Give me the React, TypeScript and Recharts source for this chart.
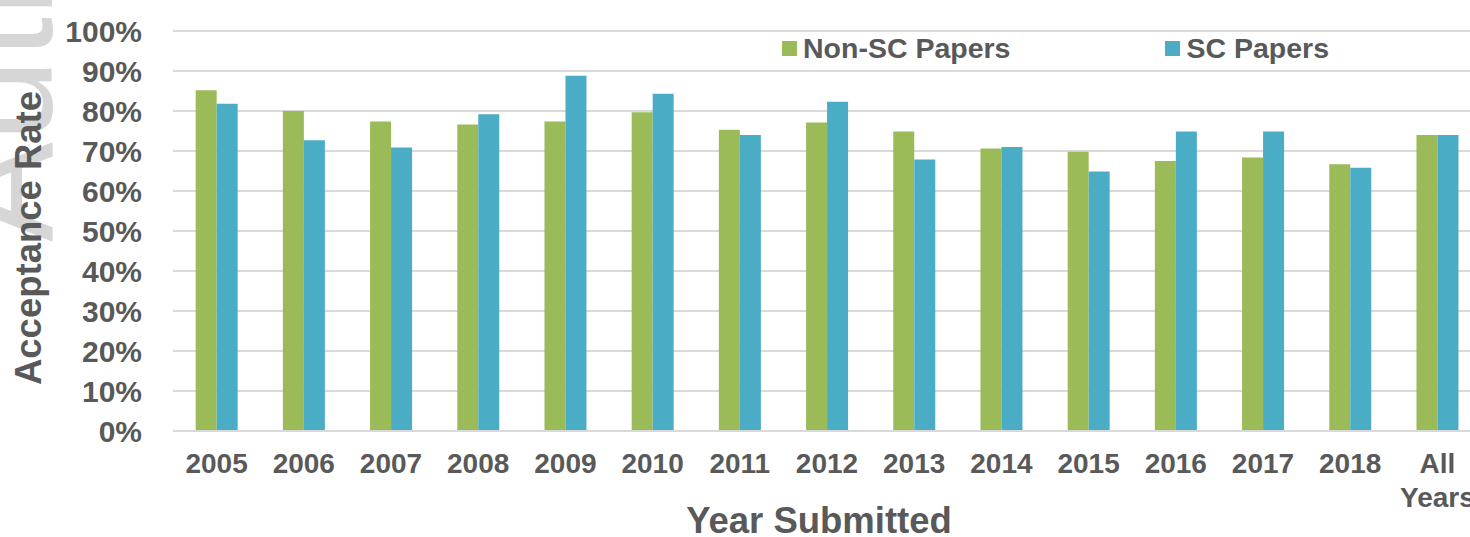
import React from 'react';
import { BarChart, Bar, XAxis, YAxis, CartesianGrid, Legend, Label } from 'recharts';

const YEARS = ['2005', '2006', '2007', '2008', '2009', '2010', '2011', '2012', '2013', '2014', '2015', '2016', '2017', '2018', 'All Years'];
const NON_SC = [85.2, 80.0, 77.4, 76.6, 77.4, 79.7, 75.3, 77.1, 74.9, 70.6, 69.8, 67.5, 68.4, 66.7, 74.0];
const SC = [81.8, 72.7, 70.9, 79.2, 88.8, 84.3, 74.0, 82.3, 67.9, 71.0, 64.9, 74.9, 74.9, 65.8, 74.0];
const Y_TICKS = [0, 10, 20, 30, 40, 50, 60, 70, 80, 90, 100];

const GREEN = '#9BBB59';
const BLUE = '#4BACC6';
const TEXT = '#595959';
const GRID = '#d9d9d9';
const FONT = '"Liberation Sans", Arial, sans-serif';

const data = YEARS.map((year, i) => ({ year, nonSc: NON_SC[i], sc: SC[i] }));

// category labels, "All Years" wraps to two lines
const YearTick = ({ x, y, payload }: any) => {
  const words = String(payload.value).split(' ');
  return (
    <g>
      {words.map((w, i) => (
        <text key={i} x={x} y={y + 32 + i * 34} textAnchor="middle" dominantBaseline="central"
          fill={TEXT} fontSize={28} fontWeight="bold" fontFamily={FONT}>
          {w}
        </text>
      ))}
    </g>
  );
};

const LegendContent = ({ payload }: any) => (
  <div style={{ display: 'flex', alignItems: 'center', height: 36, gap: 155 }}>
    {(payload || []).map((item: any, i: number) => (
      <div key={i} style={{ display: 'flex', alignItems: 'center' }}>
        <span style={{ width: 15, height: 15, background: item.color, marginRight: 6, display: 'inline-block' }} />
        <span style={{ color: TEXT, fontSize: 28.5, fontWeight: 'bold', fontFamily: FONT, lineHeight: '36px' }}>{item.value}</span>
      </div>
    ))}
  </div>
);

export default function App() {
  return (
    <div style={{ position: 'absolute', left: 0, top: 0, width: 1470, height: 537, overflow: 'hidden', background: '#fff' }}>
      {/* faint watermark from the scanned source */}
      <svg width={1470} height={537} style={{ position: 'absolute', left: 0, top: 0 }}>
        <text transform="translate(52, 242) rotate(-90)" fontSize={150} fontFamily={FONT} fill="#d6d6d6">
          Author Manuscript
        </text>
      </svg>
      <div style={{ position: 'absolute', left: 0, top: 0 }}>
        <BarChart width={1490} height={537} data={data} margin={{ top: 31, right: 9, left: 0, bottom: 0 }}
          barCategoryGap="26%" barGap={0}>
          <CartesianGrid vertical={false} stroke={GRID} strokeWidth={2} />
          <XAxis dataKey="year" height={106} interval={0} tickLine={false} tickSize={0} tickMargin={0}
            axisLine={{ stroke: GRID, strokeWidth: 2 }} tick={<YearTick />}>
            <Label content={({ viewBox }: any) => (
              <text x={viewBox.x + viewBox.width / 2 - 8} y={533} textAnchor="middle" fill={TEXT}
                fontSize={36.5} fontWeight="bold" fontFamily={FONT}>Year Submitted</text>
            )} />
          </XAxis>
          <YAxis width={173} domain={[0, 100]} ticks={Y_TICKS} interval={0} axisLine={false} tickLine={false}
            tickSize={0} tickMargin={31} tickFormatter={(v: number) => `${v}%`}
            tick={{ fill: TEXT, fontSize: 30, fontWeight: 'bold', fontFamily: FONT }}>
            <Label content={({ viewBox }: any) => (
              <text transform={`translate(41, ${viewBox.y + viewBox.height / 2 + 7}) rotate(-90)`} textAnchor="middle"
                fill={TEXT} fontSize={36.5} fontWeight="bold" fontFamily={FONT}>Acceptance Rate</text>
            )} />
          </YAxis>
          <Legend layout="horizontal" verticalAlign="middle" align="center" content={<LegendContent />}
            wrapperStyle={{ position: 'absolute', top: 30, left: 782, width: 650, height: 36 }} />
          <Bar dataKey="nonSc" name="Non-SC Papers" fill={GREEN} isAnimationActive={false} />
          <Bar dataKey="sc" name="SC Papers" fill={BLUE} isAnimationActive={false} />
        </BarChart>
      </div>
    </div>
  );
}
